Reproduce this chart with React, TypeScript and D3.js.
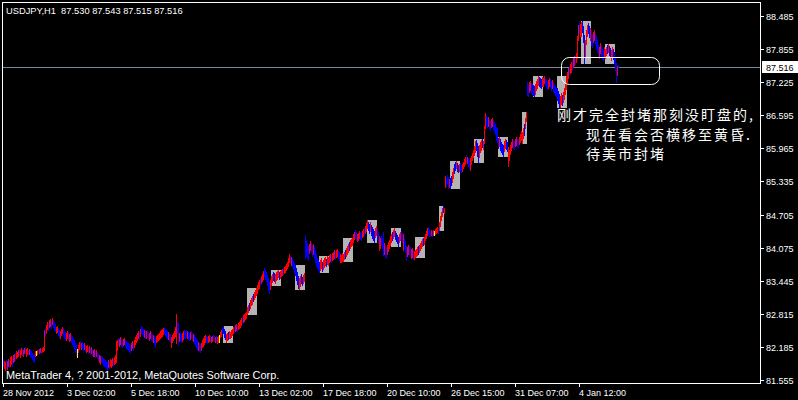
import React from 'react';
import * as d3 from 'd3';

// ---------- data ----------
const symbolTitle = 'USDJPY,H1  87.530 87.543 87.515 87.516';
const copyright = 'MetaTrader 4, ? 2001-2012, MetaQuotes Software Corp.';
const lastPrice = 87.516;
const priceTicks = [88.485, 87.855, 87.225, 86.595, 85.965, 85.335, 84.705, 84.075, 83.445, 82.815, 82.185, 81.555];
const timeLabels = ['28 Nov 2012', '3 Dec 02:00', '5 Dec 18:00', '10 Dec 10:00', '13 Dec 02:00', '17 Dec 18:00', '20 Dec 10:00', '26 Dec 15:00', '31 Dec 07:00', '4 Jan 12:00'];
const timeLabelBars = [0, 64, 128, 192, 256, 320, 384, 448, 512, 576];

// hourly bar highs / lows, r = up bar, b = down bar, n = unchanged
const highs = [
  81.96, 81.92, 81.90, 81.94, 81.92, 81.96, 81.94, 82.00, 82.02, 81.98,
  82.03, 82.05, 82.07, 82.11, 82.09, 82.13, 82.15, 82.13, 82.17, 82.15,
  82.13, 82.17, 82.19, 82.15, 82.17, 82.13, 82.15, 82.13, 82.11, 82.07,
  82.03, 82.05, 82.11, 82.11, 82.13, 82.15, 82.15, 82.17, 82.15, 82.17,
  82.19, 82.51, 82.55, 82.60, 82.66, 82.64, 82.70, 82.72, 82.68, 82.74,
  82.70, 82.66, 82.62, 82.57, 82.59, 82.55, 82.51, 82.49, 82.53, 82.57,
  82.55, 82.51, 82.47, 82.45, 82.49, 82.47, 82.43, 82.45, 82.41, 82.40,
  82.36, 82.32, 82.26, 82.22, 82.15, 82.22, 82.28, 82.30, 82.26, 82.28,
  82.24, 82.26, 82.22, 82.21, 82.22, 82.19, 82.21, 82.17, 82.19, 82.15,
  82.13, 82.15, 82.11, 82.13, 82.09, 82.05, 82.03, 82.02, 82.03, 82.00,
  81.98, 81.96, 81.94, 81.92, 81.90, 81.94, 81.92, 81.96, 81.94, 81.98,
  81.96, 82.00, 82.03, 82.30, 82.32, 82.36, 82.34, 82.38, 82.36, 82.32,
  82.34, 82.36, 82.32, 82.30, 82.28, 82.26, 82.24, 82.22, 82.26, 82.30,
  82.28, 82.32, 82.38, 82.41, 82.45, 82.49, 82.47, 82.53, 82.59, 82.57,
  82.53, 82.51, 82.49, 82.49, 82.51, 82.47, 82.45, 82.49, 82.47, 82.43,
  82.41, 82.40, 82.36, 82.40, 82.41, 82.43, 82.45, 82.49, 82.51, 82.53,
  82.55, 82.57, 82.53, 82.51, 82.49, 82.47, 82.45, 82.43, 82.38, 82.41,
  82.45, 82.49, 82.57, 82.81, 82.66, 82.64, 82.45, 82.47, 82.43, 82.45,
  82.49, 82.51, 82.49, 82.51, 82.49, 82.47, 82.45, 82.47, 82.49, 82.45,
  82.43, 82.41, 82.38, 82.34, 82.32, 82.28, 82.26, 82.24, 82.26, 82.32,
  82.36, 82.40, 82.41, 82.40, 82.38, 82.40, 82.41, 82.40, 82.38, 82.40,
  82.41, 82.40, 82.38, 82.40, 82.38, 82.40, 82.41, 82.47, 82.51, 82.55,
  82.59, 82.53, 82.49, 82.43, 82.45, 82.47, 82.49, 82.47, 82.51, 82.53,
  82.57, 82.59, 82.60, 82.62, 82.60, 82.64, 82.66, 82.70, 82.74, 82.76,
  82.79, 82.81, 82.83, 82.85, 82.95, 82.98, 83.02, 83.08, 83.12, 83.16,
  83.19, 83.23, 83.27, 83.31, 83.36, 83.42, 83.46, 83.50, 83.54, 83.57,
  83.63, 83.69, 83.65, 83.61, 83.55, 83.50, 83.42, 83.46, 83.54, 83.57,
  83.61, 83.59, 83.57, 83.61, 83.63, 83.65, 83.61, 83.63, 83.65, 83.67,
  83.69, 83.71, 83.73, 83.76, 83.80, 83.88, 83.95, 83.92, 83.90, 83.88,
  83.82, 83.78, 83.75, 83.69, 83.61, 83.54, 83.50, 83.54, 83.57, 83.52,
  83.55, 83.59, 84.32, 84.22, 84.17, 84.11, 84.15, 84.20, 84.17, 84.13,
  84.15, 84.11, 84.03, 83.95, 83.88, 83.84, 83.80, 83.84, 83.88, 83.80,
  83.84, 83.88, 83.90, 83.86, 83.92, 83.90, 83.93, 83.95, 83.93, 83.97,
  83.99, 84.03, 84.01, 84.03, 84.05, 84.01, 83.99, 83.95, 83.93, 83.97,
  83.95, 83.99, 84.03, 84.07, 84.11, 84.15, 84.18, 84.22, 84.24, 84.26,
  84.33, 84.37, 84.41, 84.37, 84.33, 84.35, 84.39, 84.37, 84.35, 84.39,
  84.43, 84.45, 84.49, 84.54, 84.60, 84.56, 84.52, 84.56, 84.50, 84.47,
  84.43, 84.39, 84.45, 84.49, 84.43, 84.37, 84.30, 84.26, 84.30, 84.26,
  84.37, 84.17, 84.13, 84.09, 84.13, 84.18, 84.22, 84.30, 84.33, 84.37,
  84.41, 84.45, 84.39, 84.35, 84.32, 84.28, 84.33, 84.37, 84.39, 84.35,
  84.33, 84.26, 84.20, 84.11, 84.09, 84.13, 84.11, 84.09, 84.05, 84.07,
  84.03, 84.01, 84.03, 84.05, 84.09, 84.11, 84.13, 84.17, 84.20, 84.24,
  84.26, 84.28, 84.33, 84.39, 84.45, 84.47, 84.43, 84.39, 84.41, 84.39,
  84.41, 84.39, 84.43, 84.45, 84.47, 84.45, 84.56, 84.68, 84.75, 84.83,
  84.87, 84.83, 85.44, 85.40, 85.46, 85.42, 85.38, 85.40, 85.44, 85.51,
  85.59, 85.66, 85.70, 85.72, 85.68, 85.65, 85.66, 85.68, 85.65, 85.66,
  85.70, 85.76, 85.80, 85.84, 85.80, 85.78, 85.74, 85.78, 85.82, 85.87,
  85.93, 86.01, 86.10, 86.12, 86.06, 86.01, 86.03, 86.08, 86.12, 86.14,
  86.10, 86.40, 86.64, 86.60, 86.55, 86.57, 86.53, 86.48, 86.53, 86.55,
  86.50, 86.46, 86.43, 86.38, 86.36, 86.16, 86.18, 86.14, 86.08, 86.05,
  86.03, 86.10, 86.14, 86.12, 86.08, 85.99, 85.93, 86.03, 86.08, 86.14,
  86.12, 86.10, 86.14, 86.18, 86.16, 86.14, 86.18, 86.24, 86.29, 86.27,
  86.36, 86.43, 86.55, 86.66, 87.23, 87.19, 87.23, 87.25, 87.21, 87.19,
  87.17, 87.15, 87.19, 87.25, 87.29, 87.34, 87.32, 87.30, 87.29, 87.32,
  87.30, 87.34, 87.30, 87.29, 87.25, 87.27, 87.30, 87.29, 87.25, 87.27,
  87.23, 87.19, 87.15, 87.11, 87.11, 87.06, 87.00, 86.96, 87.02, 86.98,
  87.04, 87.11, 87.19, 87.34, 87.42, 87.50, 87.54, 87.57, 87.61, 87.65,
  87.69, 87.73, 87.74, 87.78, 88.11, 88.31, 88.37, 88.33, 88.37, 88.39,
  88.30, 88.12, 88.03, 88.22, 88.31, 88.35, 88.30, 88.26, 88.22, 88.14,
  88.18, 88.22, 88.16, 88.11, 88.03, 87.93, 87.90, 87.97, 87.93, 87.88,
  87.84, 87.90, 87.86, 87.90, 87.93, 87.95, 87.91, 87.88, 87.84, 87.90,
  87.86, 87.80, 87.69, 87.59, 87.54, 87.543,
];
const lows = [
  81.83, 81.79, 81.75, 81.79, 81.77, 81.83, 81.81, 81.83, 81.86, 81.83,
  81.90, 81.92, 81.94, 81.98, 82.00, 82.02, 82.03, 82.00, 82.05, 82.03,
  82.02, 82.07, 82.07, 82.02, 82.05, 82.03, 82.05, 82.02, 82.00, 81.96,
  81.92, 81.90, 82.02, 82.03, 82.05, 82.07, 82.07, 82.09, 82.07, 82.09,
  82.11, 82.13, 82.40, 82.45, 82.53, 82.51, 82.57, 82.59, 82.55, 82.62,
  82.57, 82.51, 82.49, 82.45, 82.47, 82.41, 82.38, 82.36, 82.41, 82.45,
  82.40, 82.36, 82.32, 82.32, 82.36, 82.34, 82.30, 82.32, 82.28, 82.24,
  82.21, 82.17, 82.09, 82.03, 82.00, 82.09, 82.15, 82.19, 82.15, 82.17,
  82.13, 82.15, 82.11, 82.09, 82.11, 82.07, 82.09, 82.05, 82.07, 82.03,
  82.02, 82.02, 82.00, 82.02, 81.98, 81.94, 81.90, 81.86, 81.92, 81.88,
  81.84, 81.83, 81.81, 81.79, 81.75, 81.81, 81.79, 81.83, 81.81, 81.84,
  81.83, 81.86, 81.88, 81.90, 82.13, 82.22, 82.21, 82.24, 82.21, 82.19,
  82.22, 82.24, 82.21, 82.17, 82.15, 82.13, 82.11, 82.07, 82.13, 82.17,
  82.13, 82.19, 82.24, 82.28, 82.32, 82.36, 82.34, 82.40, 82.45, 82.43,
  82.40, 82.38, 82.36, 82.36, 82.38, 82.34, 82.32, 82.36, 82.32, 82.30,
  82.28, 82.24, 82.19, 82.28, 82.30, 82.32, 82.34, 82.36, 82.38, 82.40,
  82.43, 82.45, 82.41, 82.38, 82.36, 82.34, 82.32, 82.28, 82.19, 82.28,
  82.32, 82.36, 82.40, 82.26, 82.45, 82.22, 82.30, 82.32, 82.28, 82.30,
  82.34, 82.36, 82.36, 82.38, 82.36, 82.34, 82.32, 82.34, 82.36, 82.32,
  82.30, 82.26, 82.22, 82.19, 82.15, 82.13, 82.11, 82.09, 82.13, 82.19,
  82.21, 82.24, 82.28, 82.28, 82.26, 82.28, 82.30, 82.30, 82.28, 82.30,
  82.32, 82.30, 82.28, 82.30, 82.26, 82.28, 82.28, 82.38, 82.40, 82.43,
  82.45, 82.38, 82.34, 82.28, 82.32, 82.34, 82.36, 82.36, 82.38, 82.41,
  82.45, 82.47, 82.49, 82.51, 82.49, 82.53, 82.55, 82.57, 82.60, 82.64,
  82.66, 82.68, 82.72, 82.74, 82.81, 82.85, 82.89, 82.93, 82.98, 83.00,
  83.06, 83.10, 83.14, 83.17, 83.21, 83.29, 83.31, 83.36, 83.40, 83.44,
  83.48, 83.54, 83.48, 83.44, 83.36, 83.27, 83.21, 83.29, 83.36, 83.42,
  83.46, 83.44, 83.40, 83.46, 83.48, 83.52, 83.48, 83.50, 83.54, 83.55,
  83.57, 83.59, 83.61, 83.65, 83.69, 83.73, 83.80, 83.78, 83.75, 83.73,
  83.67, 83.61, 83.55, 83.46, 83.38, 83.31, 83.29, 83.34, 83.40, 83.36,
  83.40, 83.44, 83.88, 83.92, 83.88, 83.84, 83.98, 84.03, 83.99, 83.92,
  83.95, 83.88, 83.80, 83.73, 83.69, 83.65, 83.61, 83.65, 83.69, 83.63,
  83.67, 83.71, 83.75, 83.73, 83.76, 83.75, 83.80, 83.82, 83.80, 83.84,
  83.86, 83.88, 83.86, 83.90, 83.92, 83.88, 83.84, 83.80, 83.80, 83.82,
  83.82, 83.86, 83.88, 83.92, 83.95, 83.99, 84.03, 84.07, 84.11, 84.13,
  84.18, 84.24, 84.26, 84.22, 84.20, 84.22, 84.26, 84.24, 84.22, 84.28,
  84.30, 84.32, 84.35, 84.39, 84.45, 84.41, 84.35, 84.39, 84.32, 84.26,
  84.22, 84.18, 84.28, 84.32, 84.24, 84.17, 84.03, 84.07, 84.13, 84.07,
  83.93, 83.95, 83.92, 83.88, 83.95, 84.01, 84.07, 84.13, 84.18, 84.22,
  84.26, 84.30, 84.24, 84.20, 84.17, 84.11, 84.18, 84.22, 84.22, 84.18,
  84.03, 84.07, 83.99, 83.84, 83.92, 83.95, 83.93, 83.90, 83.88, 83.90,
  83.86, 83.86, 83.90, 83.92, 83.93, 83.95, 83.99, 84.03, 84.07, 84.11,
  84.13, 84.15, 84.22, 84.26, 84.32, 84.33, 84.30, 84.30, 84.32, 84.30,
  84.32, 84.32, 84.33, 84.35, 84.37, 84.35, 84.41, 84.49, 84.60, 84.68,
  84.75, 84.73, 85.23, 85.25, 85.31, 85.21, 85.23, 85.21, 85.27, 85.32,
  85.40, 85.49, 85.55, 85.59, 85.53, 85.51, 85.53, 85.55, 85.51, 85.53,
  85.59, 85.63, 85.66, 85.70, 85.68, 85.63, 85.59, 85.55, 85.66, 85.74,
  85.80, 85.84, 85.89, 85.93, 85.82, 85.70, 85.80, 85.89, 85.93, 85.99,
  85.95, 86.06, 86.35, 86.41, 86.38, 86.40, 86.35, 86.31, 86.38, 86.40,
  86.33, 86.29, 86.24, 86.12, 86.08, 85.97, 86.01, 85.93, 85.89, 85.86,
  85.82, 85.91, 85.97, 85.95, 85.91, 85.63, 85.74, 85.86, 85.93, 85.99,
  85.97, 85.95, 86.01, 86.03, 86.01, 85.99, 86.05, 86.08, 86.12, 86.06,
  86.16, 86.22, 86.36, 86.48, 86.98, 86.96, 87.04, 87.08, 87.02, 87.00,
  86.98, 86.96, 87.00, 87.08, 87.11, 87.17, 87.15, 87.13, 87.11, 87.15,
  87.15, 87.21, 87.17, 87.13, 87.10, 87.11, 87.15, 87.13, 87.08, 87.11,
  87.06, 87.02, 86.98, 86.96, 86.89, 86.83, 86.76, 86.76, 86.81, 86.79,
  86.85, 86.91, 87.00, 87.10, 87.23, 87.31, 87.36, 87.40, 87.42, 87.46,
  87.52, 87.55, 87.57, 87.61, 87.69, 88.03, 88.16, 88.11, 88.11, 88.18,
  87.99, 87.59, 87.73, 87.95, 88.11, 88.16, 88.09, 88.03, 87.93, 87.89,
  87.99, 88.03, 87.95, 87.88, 87.80, 87.71, 87.69, 87.78, 87.73, 87.67,
  87.65, 87.73, 87.69, 87.74, 87.78, 87.80, 87.74, 87.71, 87.65, 87.73,
  87.67, 87.59, 87.46, 87.23, 87.36, 87.515,
];
const dirs = [
  'brrbrrbrrb', 'rrbrrrbrrb', 'rrbrrbrbbb', 'bbrnrbrrbr', 'rrbrrbrrbr',
  'bbbrrbbrrr', 'bbbrrbrrbb', 'bbbbnrrbrb', 'brbrrbrbrb', 'rrbrbbrrbb',
  'bbbbbrbrrr', 'brrrrbrrbb', 'rrbbbbbbrr', 'brrrrrbrbb', 'brbrbbrrbb',
  'rbbrrrrrrr', 'rbbbbrbbrr', 'rrrrbbrbbr', 'rbbbrbbrbb', 'rbbbbrbbrr',
  'rrrbbrrbrr', 'bbrbrrnrrb', 'bbbrrbrrrr', 'rbrrbrrrrb', 'rrrrrrbrrr',
  'brrrrrrbrr', 'rbbbbbbrrr', 'bbrrrrbrrr', 'brrrrrrbrb', 'bbbbbbrrbb',
  'rrbbbbrrbb', 'rbbbbbbrrb', 'rrrbrrrrbr', 'rrbrrbbrrr', 'rrbrrrbrrr',
  'rrbbrrrbbr', 'rbrrrbbrbb', 'bbrrbbrrbb', 'brbbrrrrrb', 'rrbbbbrrbb',
  'rbbbrrbbrr', 'brrrrbrrrr', 'brrrrbbbrb', 'rnrrrbrrrr', 'brrbbbrbbr',
  'rbbrbbrbbr', 'rrrbrbbrrr', 'rrrbbbrrrb', 'rrrbbrbbrr', 'bbbbbbrbbb',
  'brrbbrrrrr', 'bbrrbbrrrr', 'rbrrbbrrbb', 'bbrrrrbbbr', 'rrbbbrrbbr',
  'bbbbbbbrrb', 'rrrrrrbrrb', 'rrbrrrbrrb', 'bbrrrbbrbb', 'rrbbbbrrbb',
  'brrrbrbbrr', 'bbbbrb',
].join('');

// daily session rectangles: first bar index and number of bars
const boxStarts = [220, 244, 268, 292, 316, 340, 364, 388, 412, 436, 447, 471, 495, 519, 530, 554, 578, 602];
const boxLengths = [10, 10, 10, 10, 10, 10, 10, 10, 10, 5, 10, 10, 10, 5, 10, 10, 10, 10];

const noteLines = ['刚才完全封堵那刻没盯盘的,', '现在看会否横移至黄昏.', '待美市封堵'];

const dirColor: Record<string, string> = { r: '#FF0000', b: '#0000FF', n: '#FFFF00' };

export default function App() {
  const W = 798;
  const H = 400;
  const frameL = 2, frameR = 760, frameT = 2, frameB = 383;
  const font = "'Liberation Sans', Arial, sans-serif";

  const x = d3.scaleLinear().domain([0, frameR - 3]).range([3, frameR]);
  const y = d3.scaleLinear().domain([81.555, 88.485]).range([380, 16]);

  const bars = highs.map((h, i) => ({ i, h, l: lows[i], d: dirs[i] }));
  const boxes = boxStarts.map((s, k) => {
    const seg = bars.slice(s, s + boxLengths[k]);
    return { s, len: boxLengths[k], hi: d3.max(seg, (b) => b.h) as number, lo: d3.min(seg, (b) => b.l) as number };
  });

  const yLast = Math.round(y(lastPrice)) + 0.5;

  return (
    <svg width={W} height={H} style={{ position: 'absolute', left: 0, top: 0, background: '#000' }} shapeRendering="crispEdges">
      <rect x={0} y={0} width={W} height={H} fill="#000" />
      <g>
        {boxes.map((b, k) => {
          const y0 = Math.round(y(b.hi));
          const y1 = Math.round(y(b.lo));
          return <rect key={'bx' + k} x={Math.round(x(b.s))} y={y0} width={b.len} height={Math.max(1, y1 - y0 + 1)} fill="#B4B4B4" />;
        })}
      </g>
      <line x1={frameL} x2={frameR} y1={yLast} y2={yLast} stroke="#778899" strokeWidth={1} />
      <g>
        {bars.map((b) => {
          const y0 = Math.round(y(b.h));
          const y1 = Math.round(y(b.l));
          return <rect key={b.i} x={Math.round(x(b.i))} y={y0} width={1} height={Math.max(1, y1 - y0 + 1)} fill={dirColor[b.d] || '#FF0000'} />;
        })}
      </g>
      <rect x={frameL + 0.5} y={frameT + 0.5} width={frameR - frameL} height={frameB - frameT} fill="none" stroke="#FFF" strokeWidth={1} />
      {/* price axis */}
      <g fontFamily={font} fontSize={9} fill="#FFF">
        {priceTicks.map((p) => {
          const yy = Math.round(y(p)) + 0.5;
          return (
            <g key={p}>
              <line x1={frameR + 1} x2={frameR + 4} y1={yy} y2={yy} stroke="#FFF" />
              <text x={766} y={yy + 3.5}>{p.toFixed(3)}</text>
            </g>
          );
        })}
        <rect x={762} y={yLast - 6.5} width={36} height={12} fill="#FFF" />
        <text x={766} y={yLast + 3.5} fill="#000">{lastPrice.toFixed(3)}</text>
      </g>
      {/* time axis */}
      <g fontFamily={font} fontSize={9} fill="#FFF">
        {timeLabels.map((t, k) => {
          const xx = Math.round(x(timeLabelBars[k])) + 0.5;
          return (
            <g key={t}>
              <line x1={xx} x2={xx} y1={frameB + 1} y2={frameB + 4} stroke="#FFF" />
              <text x={xx - 0.5} y={396}>{t}</text>
            </g>
          );
        })}
      </g>
      <text x={6} y={14} fontFamily={font} fontSize={9.3} fill="#FFF" style={{ whiteSpace: 'pre' }}>{symbolTitle}</text>
      <text x={6} y={379} fontFamily={font} fontSize={10.9} fill="#FFF">{copyright}</text>
      {/* annotation */}
      <rect x={561.5} y={57.5} width={98} height={27} rx={8} ry={8} fill="none" stroke="#FFF" strokeWidth={1} shapeRendering="auto" />
      <g fontFamily="'Noto Sans CJK SC', sans-serif" fontSize={14} letterSpacing={2} fill="#FFF">
        <text x={557} y={120}>{noteLines[0]}</text>
        <text x={586} y={140}>{noteLines[1]}</text>
        <text x={586} y={159}>{noteLines[2]}</text>
      </g>
    </svg>
  );
}
